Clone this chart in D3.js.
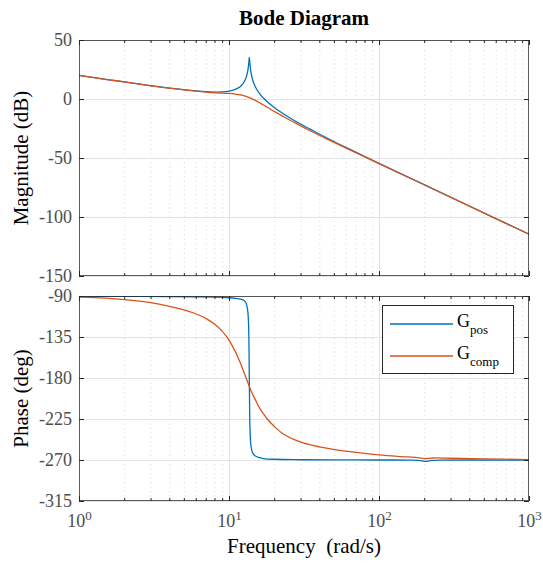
<!DOCTYPE html>
<html><head><meta charset="utf-8">
<script src="https://cdn.jsdelivr.net/npm/d3@7"></script>
<style>
body{margin:0;background:#fff;}
svg{display:block;font-family:"Liberation Serif","Times New Roman",serif;}
</style></head>
<body><svg id="c" width="543" height="563"></svg>
<script>
// ---- data ----
const posMagW  = [1,1.5,2,3,4,5,6,7,8,9,10,11,11.8,12.5,13,13.3,13.5,13.6,13.66,13.73,13.8,14,14.4,15,16,17,19.7,23,28.3,35,47,70,100,200,400,1000];
const posMagDb = [20,16.7,14.6,11.3,9.3,7.9,6.9,6.2,5.9,6.0,6.7,8.2,10.2,13.6,18.1,22.9,28.7,33,35.3,32.5,29.2,22.7,15.9,10.2,4.5,0.6,-6.5,-12.5,-19.5,-25.8,-34.3,-45,-54.6,-72.6,-90.7,-114.6];
const compMagW  = [1,1.5,2,3,4,5,6,7,8,9,10,11,12,13,14,15,16,17,18,20,23,28,35,47,70,100,200,400,1000];
const compMagDb = [20,16.7,14.6,11.2,9.2,7.7,6.6,5.8,5.3,4.9,4.7,4.2,3.4,2.2,0.6,-1.2,-3.2,-5.1,-7.0,-10.5,-14.8,-20.7,-27.1,-35.0,-45.4,-54.8,-72.7,-90.8,-114.6];
const posPhW   = [1,2,4,6,8,10,11,12,12.6,13,13.3,13.5,13.6,13.66,13.73,13.8,14,14.4,15,16,17,20,30,50,100,160,190,205,220,260,1000];
const posPhDeg = [-90.3,-90.4,-90.6,-90.9,-91.2,-91.9,-92.5,-93.5,-95,-98,-104.6,-120.6,-147.9,-180,-216.1,-235.5,-254.1,-262.5,-265.7,-267.5,-268.4,-269.2,-269.7,-269.9,-270,-270.1,-270.6,-271.6,-270.7,-270.2,-270.2];
const compPhW   = [1,1.5,2,3,4,5,6,7,8,9,9.5,10,10.5,11,11.5,12,12.5,13,13.6,14,15,16,17,18,20,23,28,35,40,60,100,140,180,200,212,230,300,500,1000];
const compPhDeg = [-91.2,-92.4,-93.9,-97.3,-101.3,-105.3,-109.5,-114.5,-120.7,-128.5,-133.3,-138.5,-144.4,-150.8,-157.7,-165,-172.6,-180,-188.5,-194,-204,-213,-219.5,-225,-233,-241.5,-248.5,-253.5,-255.5,-260.3,-264.3,-266.2,-267.4,-268.5,-268.3,-267.8,-268.1,-268.8,-269.5];
const xTickValues = [1,10,100,1000];
const xTickExps = ["0","1","2","3"];
const magTicks = [50,0,-50,-100,-150];
const phaseTicks = [-90,-135,-180,-225,-270,-315];
const seriesNames = ["pos","comp"];
const seriesColors = ["#0072BD","#D95319"];

// ---- layout ----
const svg = d3.select("#c");
const L = 79, R = 529;
const magTop = 40, magBot = 276, phTop = 296, phBot = 501;
const x = d3.scaleLog().domain([1,1000]).range([L,R]);
const yMag = d3.scaleLinear().domain([-150,50]).range([magBot,magTop]);
const yPh = d3.scaleLinear().domain([-315,-90]).range([phBot,phTop]);
const minor = [];
[1,10,100].forEach(d=>{for(let k=2;k<=9;k++) minor.push(d*k);});

const axisColor = "#262626", tickTextColor = "#4d4d4d";
const serif = '"Liberation Serif","Times New Roman",serif';

function panel(id, y, ticks, top, bot, series, labelText){
  const g = svg.append("g");
  const h = bot-top, w = R-L;
  // minor x grid (dotted)
  const gm = g.append("g").attr("transform",`translate(0,${bot})`)
    .call(d3.axisBottom(x).tickValues(minor).tickSize(-h).tickFormat(""));
  gm.select(".domain").remove();
  gm.selectAll("line").attr("stroke","#d6d6d6").attr("stroke-width",1).attr("stroke-dasharray","1,3.5");
  // major x grid
  const gM = g.append("g").attr("transform",`translate(0,${bot})`)
    .call(d3.axisBottom(x).tickValues([10,100]).tickSize(-h).tickFormat(""));
  gM.select(".domain").remove();
  gM.selectAll("line").attr("stroke","#e3e3e3").attr("stroke-width",1.2);
  // y grid
  const gy = g.append("g").attr("transform",`translate(${L},0)`)
    .call(d3.axisLeft(y).tickValues(ticks).tickSize(-w).tickFormat(""));
  gy.select(".domain").remove();
  gy.selectAll("line").attr("stroke","#e3e3e3").attr("stroke-width",1.2);

  // clip
  svg.append("clipPath").attr("id","clip"+id).append("rect")
    .attr("x",L).attr("y",top).attr("width",w).attr("height",h);
  const lg = g.append("g").attr("clip-path",`url(#clip${id})`);
  series.forEach((s,i)=>{
    const pts = s.w.map((wv,j)=>[wv,s.v[j]]);
    lg.append("path").datum(pts)
      .attr("fill","none").attr("stroke",seriesColors[i]).attr("stroke-width",1.3)
      .attr("stroke-linejoin","round")
      .attr("d",d3.line().x(d=>x(d[0])).y(d=>y(d[1])).curve(d3.curveCatmullRom.alpha(0.5)));
  });

  // ticks (inward) on all sides
  const styleAx = sel => { sel.select(".domain").remove(); sel.selectAll("line").attr("stroke",axisColor).attr("stroke-width",1); };
  const tb = g.append("g").attr("transform",`translate(0,${bot})`)
    .call(d3.axisBottom(x).tickValues(minor).tickSize(-3).tickFormat("")); styleAx(tb);
  const tb2 = g.append("g").attr("transform",`translate(0,${bot})`)
    .call(d3.axisBottom(x).tickValues(xTickValues).tickSize(-5).tickFormat("")); styleAx(tb2);
  const tt = g.append("g").attr("transform",`translate(0,${top})`)
    .call(d3.axisTop(x).tickValues(minor).tickSize(-3).tickFormat("")); styleAx(tt);
  const tt2 = g.append("g").attr("transform",`translate(0,${top})`)
    .call(d3.axisTop(x).tickValues(xTickValues).tickSize(-5).tickFormat("")); styleAx(tt2);
  const tl = g.append("g").attr("transform",`translate(${L},0)`)
    .call(d3.axisLeft(y).tickValues(ticks).tickSize(-5).tickPadding(7).tickFormat(d3.format("d")));
  styleAx(tl);
  tl.selectAll("text").attr("fill",tickTextColor).style("font-size","18px")
    .style("font-family",serif).text(d=>String(d));
  const tr = g.append("g").attr("transform",`translate(${R},0)`)
    .call(d3.axisRight(y).tickValues(ticks).tickSize(-5).tickFormat("")); styleAx(tr);

  // box
  g.append("rect").attr("x",L+0.5).attr("y",top+0.5).attr("width",w-1).attr("height",h-1)
    .attr("fill","none").attr("stroke",axisColor).attr("stroke-width",1).attr("stroke-opacity",0.75);

  // y label
  g.append("text").attr("transform",`translate(28,${(top+bot)/2}) rotate(-90)`)
    .attr("text-anchor","middle").style("font-size","21px").style("font-family",serif)
    .attr("fill","#000").text(labelText);
  return g;
}

panel("m", yMag, magTicks, magTop, magBot,
  [{w:posMagW,v:posMagDb},{w:compMagW,v:compMagDb}], "Magnitude (dB)");
panel("p", yPh, phaseTicks, phTop, phBot,
  [{w:posPhW,v:posPhDeg},{w:compPhW,v:compPhDeg}], "Phase (deg)");

// x tick labels 10^n
const xl = svg.append("g").attr("transform",`translate(0,${phBot})`)
  .call(d3.axisBottom(x).tickValues(xTickValues).tickSize(0).tickPadding(20).tickFormat(()=>"10"));
xl.select(".domain").remove();
xl.selectAll("text").attr("fill",tickTextColor).style("font-size","18px")
  .style("font-family",serif)
  .attr("dy","0.32em")
  .each(function(d,i){
    d3.select(this).append("tspan").attr("dy","-0.5em").style("font-size","13px").text(xTickExps[i]);
  });

// x label
svg.append("text").attr("x",(L+R)/2).attr("y",553).attr("text-anchor","middle")
  .style("font-size","21px").style("font-family",serif).attr("fill","#000")
  .style("white-space","pre").text("Frequency\u00a0\u00a0(rad/s)");

// title
svg.append("text").attr("x",(L+R)/2).attr("y",25).attr("text-anchor","middle")
  .style("font-size","21px").style("font-weight","bold").style("font-family",serif)
  .attr("fill","#000").text("Bode Diagram");

// legend
const lgd = svg.append("g");
lgd.append("rect").attr("x",382.5).attr("y",305.5).attr("width",131).attr("height",68)
  .attr("fill","#fff").attr("stroke",axisColor).attr("stroke-width",1);
const legY = [324,356];
seriesNames.forEach((n,i)=>{
  lgd.append("line").attr("x1",390).attr("x2",453).attr("y1",legY[i]).attr("y2",legY[i])
    .attr("stroke",seriesColors[i]).attr("stroke-width",1.3);
  const t = lgd.append("text").attr("x",457).attr("y",legY[i]+3).style("font-size","18px")
    .style("font-family",serif).attr("fill","#000").text("G");
  t.append("tspan").attr("dy","7").style("font-size","13px").text(n);
});
</script></body></html>
